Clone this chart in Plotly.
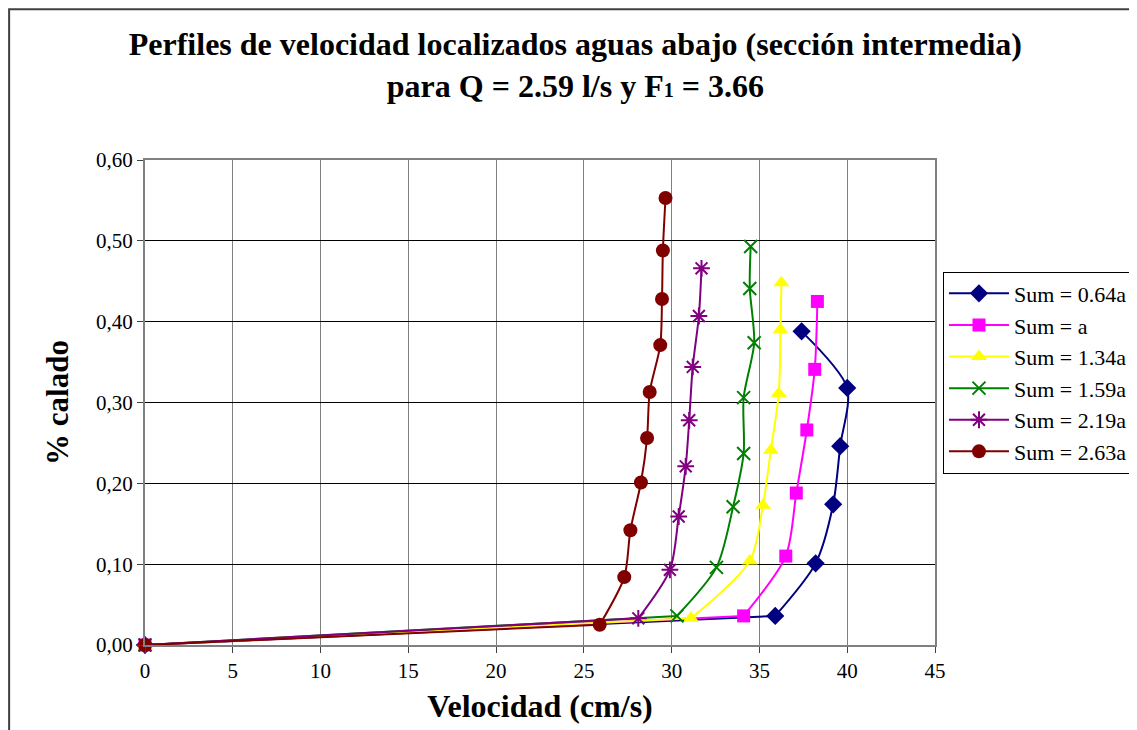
"""Velocity profiles downstream (intermediate section) for Q = 2.59 l/s."""
import plotly.graph_objects as go

SERIES_NAMES = ["Sum = 0.64a", "Sum = a", "Sum = 1.34a", "Sum = 1.59a", "Sum = 2.19a", "Sum = 2.63a"]

vel_064 = [0, 35.9, 38.2, 39.2, 39.6, 40.0, 37.4]
cal_064 = [0, 0.036, 0.101, 0.174, 0.246, 0.318, 0.388]

vel_100 = [0, 34.1, 36.5, 37.1, 37.7, 38.15, 38.3]
cal_100 = [0, 0.036, 0.110, 0.188, 0.266, 0.341, 0.425]

vel_134 = [0, 31.1, 34.45, 35.2, 35.65, 36.1, 36.2, 36.25]
cal_134 = [0, 0.033, 0.104, 0.173, 0.241, 0.311, 0.390, 0.448]

vel_159 = [0, 30.3, 32.55, 33.5, 34.1, 34.1, 34.7, 34.45, 34.5]
cal_159 = [0, 0.036, 0.096, 0.171, 0.237, 0.306, 0.374, 0.441, 0.493]

vel_219 = [0, 28.1, 29.9, 30.4, 30.8, 31.0, 31.2, 31.55, 31.7]
cal_219 = [0, 0.033, 0.093, 0.159, 0.221, 0.278, 0.344, 0.407, 0.466]

vel_263 = [0, 25.9, 27.3, 27.65, 28.25, 28.6, 28.75, 29.35, 29.45, 29.5, 29.65]
cal_263 = [0, 0.025, 0.084, 0.142, 0.201, 0.256, 0.313, 0.371, 0.428, 0.488, 0.553]

X_TICKS = [0, 5, 10, 15, 20, 25, 30, 35, 40, 45]
Y_TICKS = [0, 0.1, 0.2, 0.3, 0.4, 0.5, 0.6]

FONT = "Liberation Serif, Times New Roman, serif"

styles = [
    ("#000080", "diamond", 14, None),
    ("#FF00FF", "square", 13, None),
    ("#FFFF00", "triangle-up", 14, None),
    ("#008000", "x-thin-open", 13, 2),
    ("#800080", "asterisk-open", 14, 2),
    ("#800000", "circle", 14, None),
]
data = [
    (vel_064, cal_064), (vel_100, cal_100), (vel_134, cal_134),
    (vel_159, cal_159), (vel_219, cal_219), (vel_263, cal_263),
]

fig = go.Figure()
for name, (xs, ys), (color, symbol, size, lw) in zip(SERIES_NAMES, data, styles):
    marker = dict(symbol=symbol, size=size, color=color)
    if lw:
        marker["line"] = dict(color=color, width=lw)
    # near-straight run from the origin to the first measured point
    fig.add_trace(go.Scatter(
        x=xs[:2], y=ys[:2], mode="lines", legendgroup=name, showlegend=False,
        line=dict(color=color, width=2), cliponaxis=False, hoverinfo="skip",
    ))
    fig.add_trace(go.Scatter(
        x=xs[1:], y=ys[1:], name=name, legendgroup=name, mode="lines+markers",
        line=dict(color=color, width=2, shape="spline", smoothing=0.8),
        marker=marker, cliponaxis=False,
    ))

# origin markers on top, drawn last so the dark red circle shows as in the reference
for name, (xs, ys), (color, symbol, size, lw) in zip(SERIES_NAMES, data, styles):
    marker = dict(symbol=symbol, size=size, color=color)
    if lw:
        marker["line"] = dict(color=color, width=lw)
    fig.add_trace(go.Scatter(
        x=xs[:1], y=ys[:1], mode="markers", legendgroup=name, showlegend=False,
        marker=marker, cliponaxis=False, hoverinfo="skip",
    ))

fig.update_layout(
    width=1137, height=730,
    margin=dict(l=137, r=210, t=152, b=93),
    paper_bgcolor="white", plot_bgcolor="white",
    font=dict(family=FONT, size=21, color="black"),
    separators=",.",
    title=dict(
        text="<b>Perfiles de velocidad localizados aguas abajo (sección intermedia)<br>"
             "para Q = 2.59 l/s y F<span style='font-size:20px'>1</span> = 3.66</b>",
        x=0.499, xanchor="center", y=0.935, yanchor="top",
        font=dict(family=FONT, size=32, color="black"),
    ),
    legend=dict(
        x=1.0101, xanchor="left", y=0.77, yanchor="top",
        bordercolor="black", borderwidth=1, bgcolor="white",
        font=dict(family=FONT, size=22, color="black"),
        tracegroupgap=0, itemwidth=60,
    ),
    shapes=[dict(
        type="rect", xref="paper", yref="paper",
        x0=-0.172, x1=1.3, y0=-0.25, y1=1.311,
        line=dict(color="#404040", width=2), layer="below",
    )],
)

fig.update_xaxes(
    range=[0, 45], tickvals=X_TICKS, showgrid=True, gridcolor="#808080", gridwidth=1,
    showline=True, linecolor="#808080", linewidth=2, mirror=True,
    ticks="outside", ticklen=6, tickcolor="#404040", zeroline=False,
    title=dict(text="<b>Velocidad (cm/s)</b>", font=dict(family=FONT, size=32), standoff=12),
)
fig.update_yaxes(
    range=[0, 0.6], tickvals=Y_TICKS, tickformat=".2f",
    showgrid=True, gridcolor="black", gridwidth=1,
    showline=True, linecolor="#808080", linewidth=2, mirror=True,
    ticks="outside", ticklen=6, tickcolor="#404040", zeroline=False,
    title=dict(text="<b>% calado</b>", font=dict(family=FONT, size=31), standoff=18),
)

fig.write_html("out.html")
